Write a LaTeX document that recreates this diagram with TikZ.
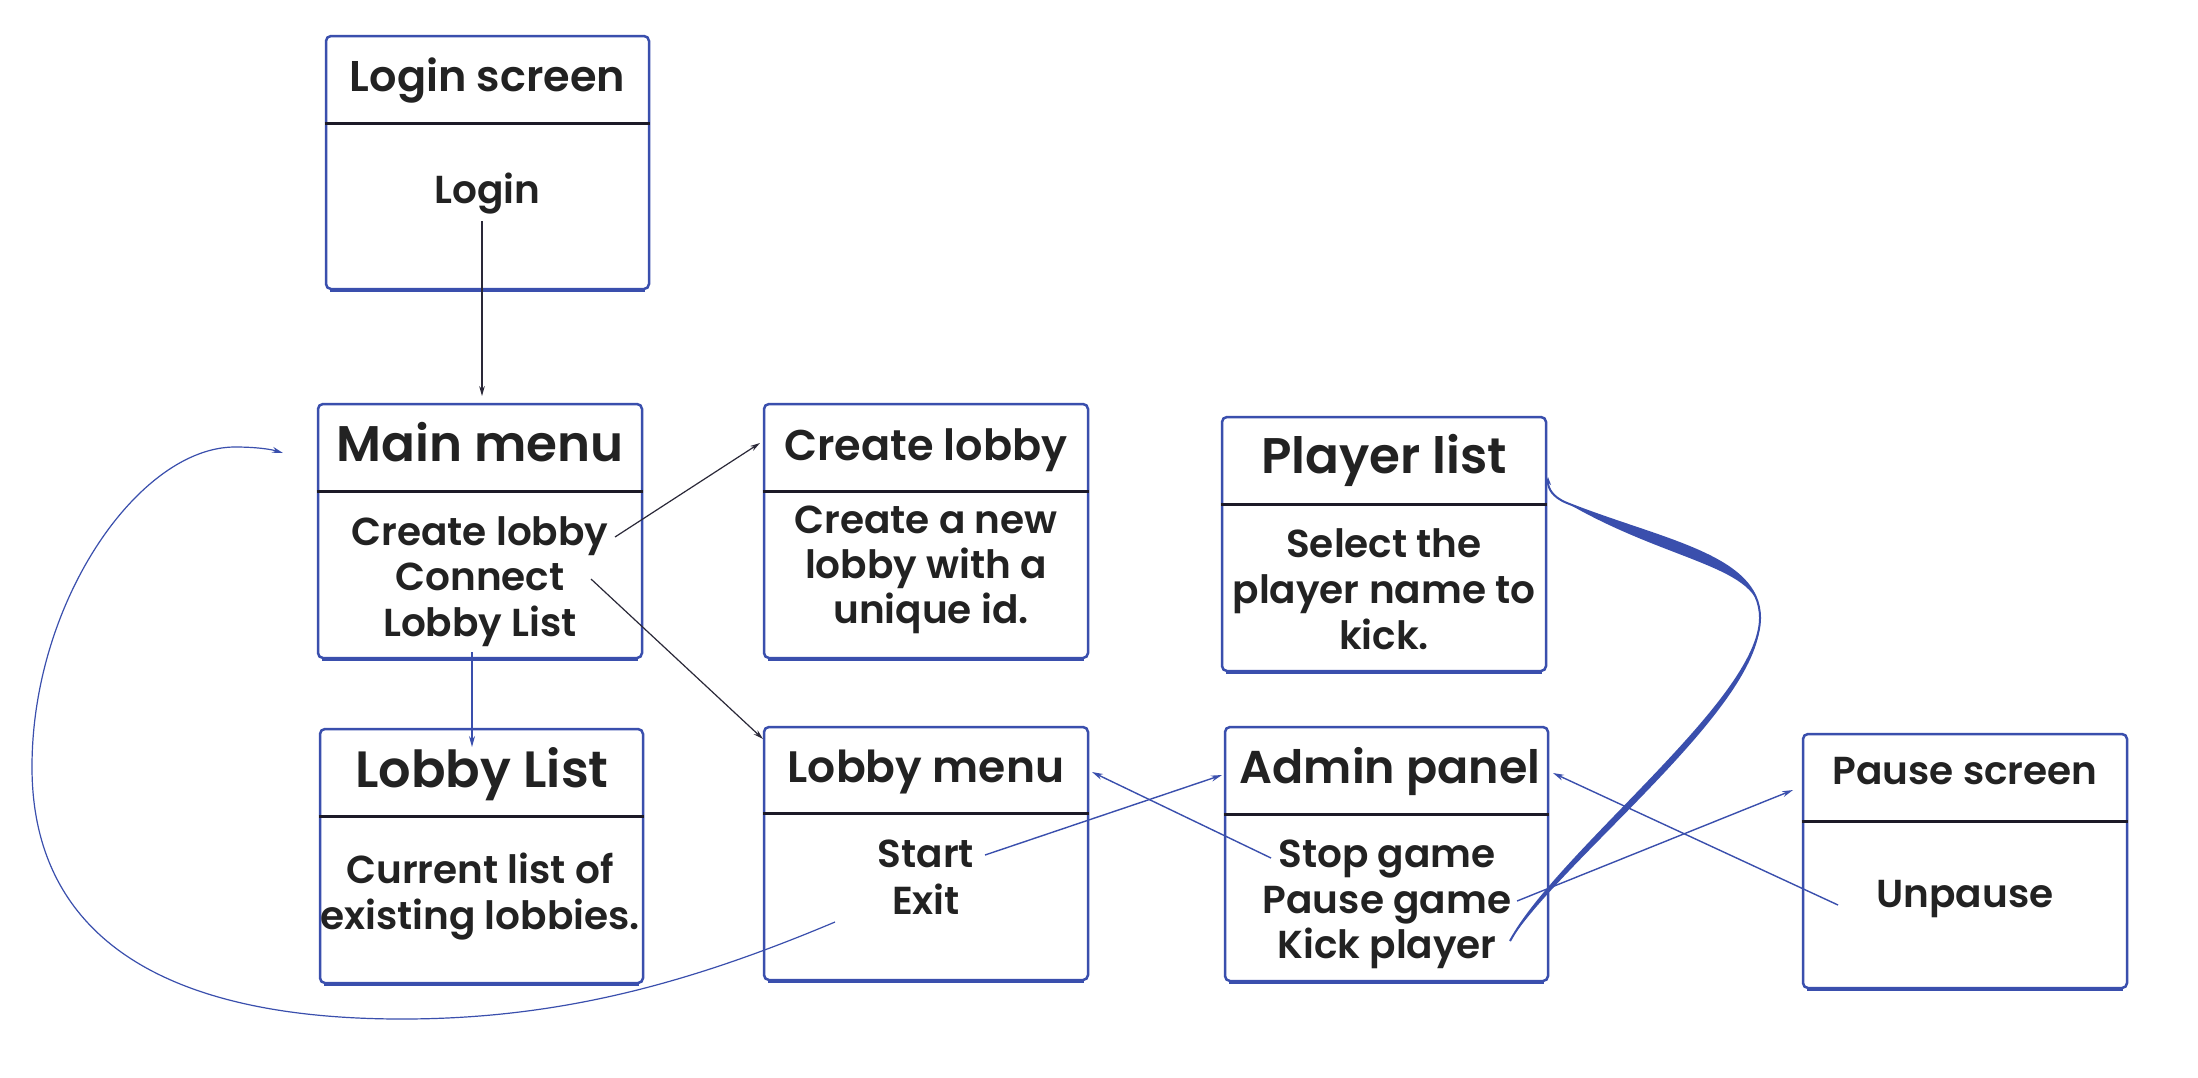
\documentclass[tikz,border=0pt]{standalone}
\usepackage{fontspec}
\setmainfont{Poppins}[UprightFont=* SemiBold, BoldFont=* Bold]
\usetikzlibrary{arrows.meta}
\definecolor{boxblue}{HTML}{3A4FAD}
\definecolor{txt}{HTML}{222222}
\definecolor{divc}{HTML}{1C1A28}
\definecolor{darkln}{HTML}{2A2838}
\newcommand\uib[6]{%
  \node[uibox, minimum width={(#4-#2)*0.5pt}, minimum height={(#5-#3)*0.5pt}] (#1) at ({(#2+#4)/2},{(#3+#5)/2}) {};
  \draw[divline] (#1.west |- 0,#6) -- (#1.east |- 0,#6);
  \draw[boxblue, line width=0.9pt] ([xshift=2.5pt,yshift=-0.4pt]#1.south west) -- ([xshift=-2.5pt,yshift=-0.4pt]#1.south east);
}
\begin{document}
\begin{tikzpicture}[x=0.5pt,y=-0.5pt,
  uibox/.style={draw=boxblue, line width=1.25pt, rounded corners=2.5pt, rectangle, inner sep=0pt, fill=white},
  divline/.style={draw=divc, line width=1.5pt},
  ttl/.style={anchor=base, text=txt, inner sep=0pt},
  bdy/.style={anchor=base, text=txt, inner sep=0pt, font=\fontsize{19.5}{23}\selectfont},
  bluearrow/.style={draw=boxblue, line width=0.7pt, -{Stealth[length=5.5pt,width=3pt]}},
  darkarrow/.style={draw=darkln, line width=0.6pt, -{Stealth[length=5pt,width=2.8pt]}},
]
\fill[white] (0,0) rectangle (2198,1077);
\useasboundingbox (0,0) rectangle (2198,1077);

% boxes
\uib{login}{326}{36}{649}{289}{123}
\uib{mainm}{318}{404}{642}{658}{491}
\uib{createl}{764}{404}{1088}{658}{491}
\uib{playerl}{1222}{417}{1546}{671}{504}
\uib{lobbyl}{320}{729}{643}{983}{816}
\uib{lobbym}{764}{727}{1088}{980}{813}
\uib{admin}{1225}{727}{1548}{981}{814}
\uib{pause}{1803}{734}{2127}{988}{821}

% texts
\node[ttl, font=\fontsize{21.5}{26}\selectfont] (loginT) at (487.5,91) {Login screen};
\node[bdy] (loginB) at (487.5,203) {Login};

\node[ttl, font=\fontsize{25}{30}\selectfont] (mainT) at (480,461) {Main menu};
\node[bdy] (mainB1) at (480,545) {Create lobby};
\node[bdy] (mainB2) at (480,590) {Connect};
\node[bdy] (mainB3) at (480,636) {Lobby List};

\node[ttl, font=\fontsize{21.5}{26}\selectfont] (createT) at (926,460) {Create lobby};
\node[bdy] (createB1) at (926,533) {Create a new};
\node[bdy] (createB2) at (926,578) {lobby with a};
\node[bdy] (createB3) at (931,623) {unique id.};

\node[ttl, font=\fontsize{25}{30}\selectfont] (playerT) at (1384,473) {Player list};
\node[bdy] (playerB1) at (1384,557) {Select the};
\node[bdy] (playerB2) at (1384,603) {player name to};
\node[bdy] (playerB3) at (1384,649) {kick.};

\node[ttl, font=\fontsize{25.5}{30}\selectfont] (lobbylT) at (482,787) {Lobby List};
\node[bdy] (lobbylB1) at (480,883) {Current list of};
\node[bdy] (lobbylB2) at (480,929) {existing lobbies.};

\node[ttl, font=\fontsize{22}{26}\selectfont] (lobbymT) at (926,782) {Lobby menu};
\node[bdy] (lobbymB1) at (926,867) {Start};
\node[bdy] (lobbymB2) at (926,914) {Exit};

\node[ttl, font=\fontsize{23}{27}\selectfont] (adminT) at (1390,783) {Admin panel};
\node[bdy] (adminB1) at (1387,867) {Stop game};
\node[bdy] (adminB2) at (1387,913) {Pause game};
\node[bdy] (adminB3) at (1387,958) {Kick player};

\node[ttl, font=\fontsize{19.5}{23}\selectfont] (pauseT) at (1965,784) {Pause screen};
\node[bdy] (pauseB) at (1965,907) {Unpause};

% connector end points
\coordinate (loginOut) at (482,221);
\coordinate (mainIn) at (482,396);
\coordinate (crOut) at (615,537);
\coordinate (crIn) at (760,443);
\coordinate (coOut) at (591,579);
\coordinate (coIn) at (763,739);
\coordinate (llOut) at (472,652);
\coordinate (llIn) at (472,747);
\coordinate (exitOut) at (835,922);
\coordinate (mainBack) at (283,453);
\coordinate (startOut) at (985,855);
\coordinate (adminIn) at (1222,775);
\coordinate (stopOut) at (1271,858);
\coordinate (lobbymIn) at (1092,772);
\coordinate (pauseOut) at (1517,901);
\coordinate (pauseIn) at (1793,790);
\coordinate (unpOut) at (1838,905);
\coordinate (adminIn2) at (1553,773);
\coordinate (kickOut) at (1510,941);
\coordinate (playerIn) at (1548,477);

% connectors
\draw[darkarrow] (loginOut) -- (mainIn);
\draw[darkarrow] (crOut) -- (crIn);
\draw[darkarrow] (coOut) -- (coIn);
\draw[bluearrow] (llOut) -- (llIn);
\draw[bluearrow, line width=0.6pt] (exitOut) .. controls (690,983) and (560,1019) .. (402,1019)
   .. controls (140,1019) and (32,920) .. (32,767)
   .. controls (32,600) and (140,447) .. (235,447)
   .. controls (255,447) and (270,449) .. (mainBack);
\draw[bluearrow] (startOut) -- (adminIn);
\draw[bluearrow] (stopOut) -- (lobbymIn);
\draw[bluearrow] (pauseOut) -- (pauseIn);
\draw[bluearrow] (unpOut) -- (adminIn2);

% kick player -> player list (tapered stroke)
\fill[boxblue] (kickOut) .. controls (1560,850) and (1760,700) .. (1760,618)
   .. controls (1764,705) and (1566,855) .. (kickOut) -- cycle;
\fill[boxblue] (1760,618) .. controls (1760,555) and (1660,540) .. (1567,503)
   .. controls (1670,563) and (1763,566) .. (1760,618) -- cycle;
\draw[boxblue, line width=1pt, -{Stealth[length=4pt,width=3pt]}] (kickOut) .. controls (1560,850) and (1760,700) .. (1760,618)
   .. controls (1760,555) and (1660,540) .. (1567,503)
   .. controls (1552,497) and (1548,488) .. (playerIn);
\end{tikzpicture}
\end{document}
